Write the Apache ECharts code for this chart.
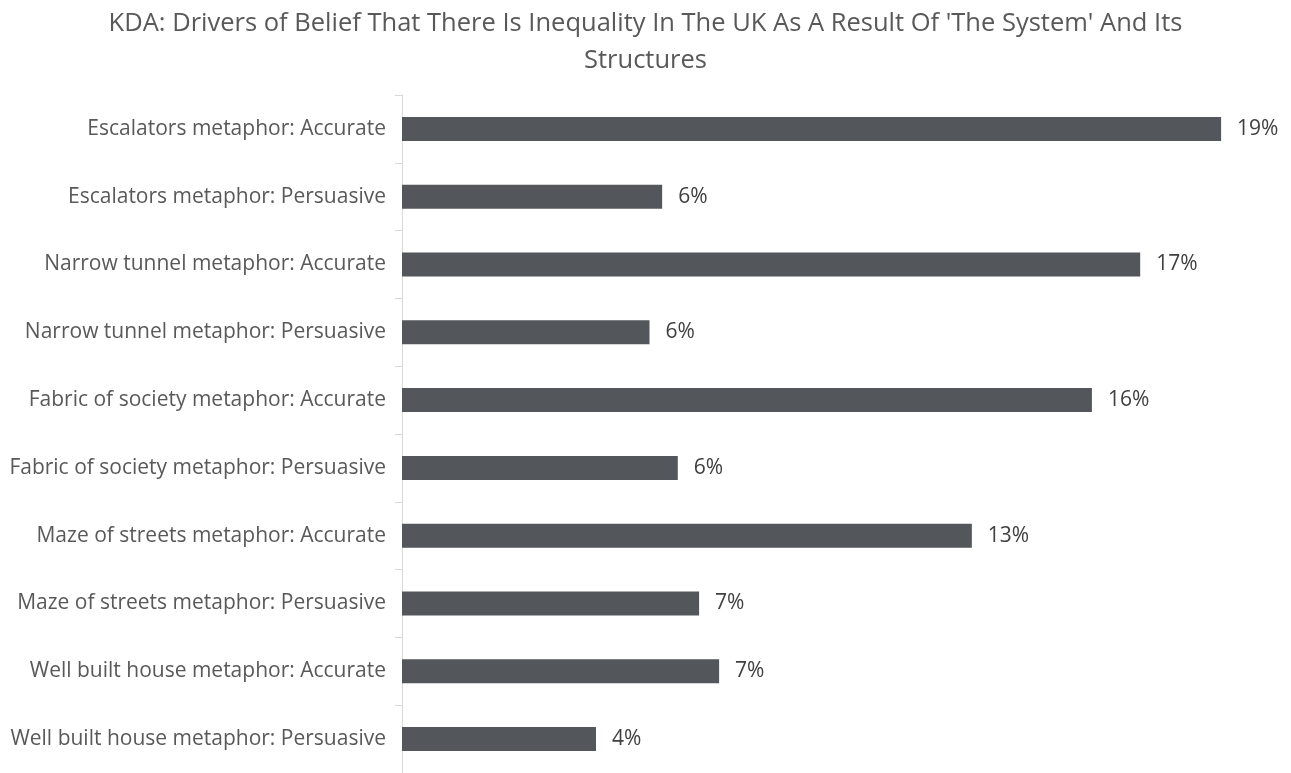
<!DOCTYPE html>
<html>
<head>
<meta charset="utf-8">
<title>KDA drivers</title>
<script src="https://cdn.jsdelivr.net/npm/echarts@6/dist/echarts.min.js"></script>
<style>
  html, body { margin: 0; padding: 0; background: #fff; }
  #chart { width: 1291px; height: 773px; }
</style>
</head>
<body>
<div id="chart"></div>
<script>
// Driver categories, top to bottom
const categories = [
  'Escalators metaphor: Accurate',
  'Escalators metaphor: Persuasive',
  'Narrow tunnel metaphor: Accurate',
  'Narrow tunnel metaphor: Persuasive',
  'Fabric of society metaphor: Accurate',
  'Fabric of society metaphor: Persuasive',
  'Maze of streets metaphor: Accurate',
  'Maze of streets metaphor: Persuasive',
  'Well built house metaphor: Accurate',
  'Well built house metaphor: Persuasive'
];

// Relative importance (share), labelled as whole percentages
const importance = [0.1883, 0.0598, 0.1697, 0.0569, 0.1586, 0.0634, 0.1310, 0.0683, 0.0729, 0.0446];

const chart = echarts.init(document.getElementById('chart'), null, { renderer: 'canvas' });

chart.setOption({
  animation: false,
  backgroundColor: '#ffffff',
  title: {
    text: "KDA: Drivers of Belief That There Is Inequality In The UK As A Result Of 'The System' And Its\nStructures",
    left: 'center',
    top: 0,
    textStyle: {
      fontFamily: 'Open Sans',
      fontSize: 25.5,
      fontWeight: 'normal',
      color: '#595959',
      lineHeight: 37
    }
  },
  grid: {
    left: 402,
    top: 95,
    width: 870,
    height: 680,
    containLabel: false
  },
  xAxis: {
    type: 'value',
    min: 0,
    max: 0.2,
    show: false
  },
  yAxis: {
    type: 'category',
    data: categories,
    inverse: true,
    axisLine: { show: true, lineStyle: { color: '#d9d9d9', width: 1 } },
    axisTick: { show: true, length: 7, lineStyle: { color: '#d9d9d9' } },
    axisLabel: {
      margin: 16,
      fontFamily: 'Open Sans',
      fontSize: 21,
      color: '#595959'
    },
    splitLine: { show: false }
  },
  series: [{
    type: 'bar',
    data: importance,
    barWidth: 24,
    itemStyle: { color: '#53565a' },
    label: {
      show: true,
      position: 'right',
      distance: 16,
      fontFamily: 'Open Sans',
      fontSize: 21,
      color: '#404040',
      formatter: p => Math.round(p.value * 100) + '%'
    }
  }]
});
</script>
</body>
</html>
